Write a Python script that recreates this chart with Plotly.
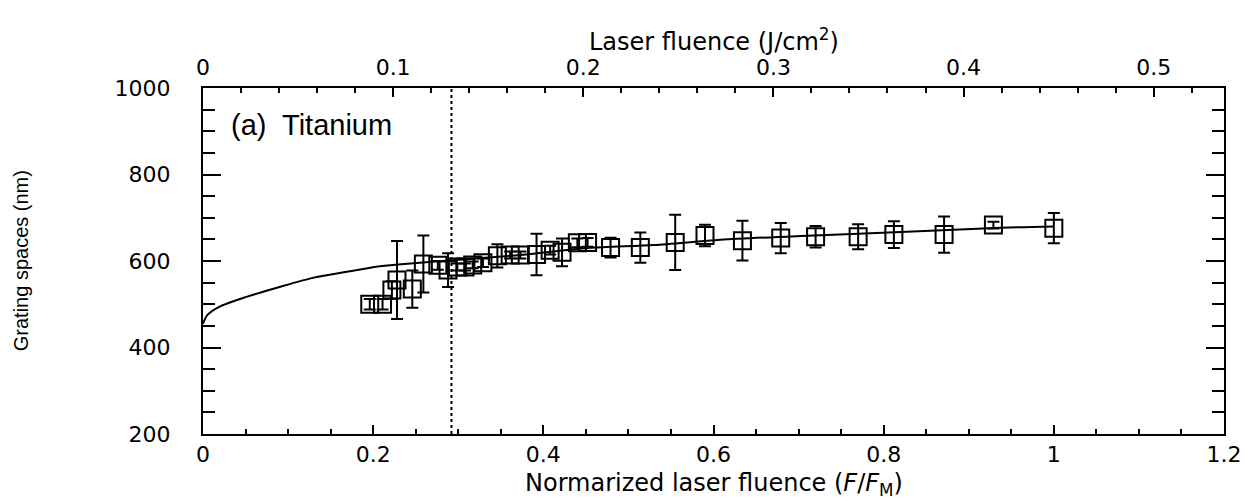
import plotly.graph_objects as go

# ---- data ----
norm_fluence = [0.196, 0.211, 0.222, 0.228, 0.246, 0.259, 0.276, 0.288, 0.299, 0.308,
                0.317, 0.329, 0.346, 0.361, 0.373, 0.392, 0.408, 0.422, 0.440, 0.452,
                0.479, 0.514, 0.555, 0.590, 0.634, 0.679, 0.720, 0.770, 0.812, 0.871,
                0.929, 1.000]
grating_nm = [500, 500, 533, 556, 535, 593, 590, 579, 586, 586,
              591, 596, 612, 614, 614, 615, 625, 620, 642, 643,
              631, 631, 643, 659, 647, 653, 656, 656, 661, 661,
              683, 676]
grating_err = [12, 12, 20, 90, 43, 66, 10, 39, 8, 8,
               8, 10, 27, 8, 8, 48, 10, 32, 10, 10,
               23, 35, 64, 25, 46, 35, 25, 29, 31, 42,
               8, 35]

fit_x = [0, 0.005, 0.019, 0.051, 0.090, 0.129, 0.169, 0.208, 0.247, 0.294,
         0.373, 0.452, 0.530, 0.608, 0.703, 0.820, 0.938, 1.000]
fit_y = [455, 475, 494, 517, 540, 561, 575, 588, 595, 602,
         614, 630, 637, 649, 658, 667, 677, 680]

threshold_x = 0.292
x_ticks = [0, 0.2, 0.4, 0.6, 0.8, 1.0, 1.2]
x_ticktext = ["0", "0.2", "0.4", "0.6", "0.8", "1", "1.2"]
top_ticks = [0, 0.1, 0.2, 0.3, 0.4, 0.5]
top_ticktext = ["0", "0.1", "0.2", "0.3", "0.4", "0.5"]
y_ticks = [200, 400, 600, 800, 1000]
top_range = [0, 0.537]

TICKFONT = dict(family="DejaVu Sans, Liberation Sans, Arial", size=22, color="black")

fig = go.Figure()

fig.add_trace(go.Scatter(
    x=fit_x, y=fit_y, mode="lines",
    line=dict(color="black", width=2, shape="spline", smoothing=0.8),
    showlegend=False, hoverinfo="skip"))

fig.add_trace(go.Scatter(
    x=[threshold_x, threshold_x], y=[200, 1000], mode="lines",
    line=dict(color="black", width=2, dash="dot"),
    showlegend=False, hoverinfo="skip"))

fig.add_trace(go.Scatter(
    x=norm_fluence, y=grating_nm, mode="markers",
    marker=dict(symbol="square-open", size=17, color="black", line=dict(width=2, color="black")),
    error_y=dict(type="data", array=grating_err, visible=True, color="black", thickness=2, width=6),
    showlegend=False))

# invisible trace to carry the top axis
fig.add_trace(go.Scatter(
    x=top_range, y=[600, 600], xaxis="x2", mode="markers",
    marker=dict(opacity=0), showlegend=False, hoverinfo="skip"))

fig.update_layout(
    width=1252, height=502,
    margin=dict(l=195, r=36, t=80, b=76),
    paper_bgcolor="white", plot_bgcolor="white",
    xaxis=dict(
        range=[0, 1.2], tickvals=x_ticks, ticktext=x_ticktext,
        ticks="inside", ticklen=9, tickwidth=2, tickcolor="black",
        minor=dict(dtick=0.05, ticks="inside", ticklen=5, tickwidth=2, tickcolor="black"),
        showline=True, linewidth=2, linecolor="black", mirror=False,
        showgrid=False, zeroline=False, tickfont=TICKFONT, ticklabelstandoff=0),
    xaxis2=dict(
        range=top_range, overlaying="x", side="top", anchor="y",
        tickvals=top_ticks, ticktext=top_ticktext,
        ticks="inside", ticklen=9, tickwidth=2, tickcolor="black",
        minor=dict(dtick=0.02, ticks="inside", ticklen=5, tickwidth=2, tickcolor="black"),
        showline=True, linewidth=2, linecolor="black",
        showgrid=False, zeroline=False, tickfont=TICKFONT, ticklabelstandoff=2),
    yaxis=dict(
        range=[200, 1000], tickvals=y_ticks,
        ticks="inside", ticklen=18, tickwidth=2, tickcolor="black",
        minor=dict(dtick=50, ticks="inside", ticklen=12, tickwidth=2, tickcolor="black"),
        showline=True, linewidth=2, linecolor="black", mirror="ticks",
        showgrid=False, zeroline=False, tickfont=TICKFONT, ticklabelstandoff=26),
    annotations=[
        dict(text="(a)  Titanium", x=0.03, y=915, xref="x", yref="y",
             xanchor="left", yanchor="middle", showarrow=False,
             font=dict(family="Liberation Sans, Arial", size=29, color="black")),
        dict(text="Laser fluence (J/cm<sup>2</sup>)", x=0.5, y=1.14, xref="paper", yref="paper",
             xanchor="center", yanchor="middle", showarrow=False,
             font=dict(family="DejaVu Sans, Liberation Sans", size=24, color="black")),
        dict(text="Normarized laser fluence (<i>F</i>/<i>F</i><sub>M</sub>)", x=0.5, y=-0.146,
             xref="paper", yref="paper", xanchor="center", yanchor="middle", showarrow=False,
             font=dict(family="DejaVu Sans, Liberation Sans", size=24, color="black")),
        dict(text="Grating spaces (nm)", x=-0.178, y=0.5, xref="paper", yref="paper",
             xanchor="center", yanchor="middle", textangle=-90, showarrow=False,
             font=dict(family="Liberation Sans, Arial", size=20, color="black")),
    ],
)

fig.write_html("out.html")
